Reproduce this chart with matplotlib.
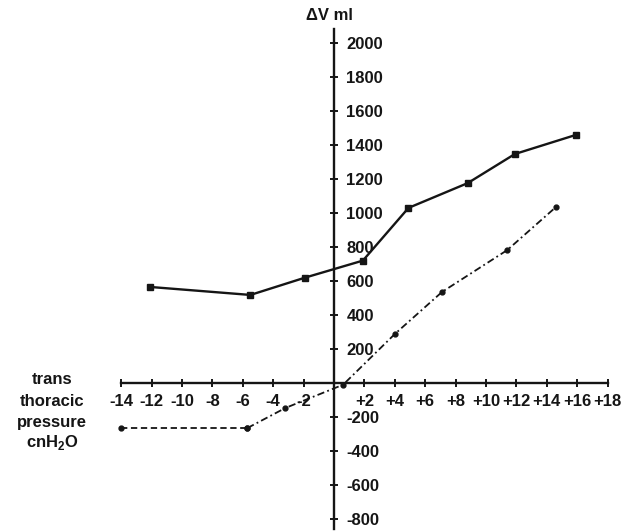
import matplotlib
matplotlib.use("Agg")
import matplotlib.pyplot as plt

plt.rcParams['font.family'] = ['Liberation Sans', 'DejaVu Sans']
plt.rcParams['font.weight'] = 'bold'
plt.rcParams['mathtext.fontset'] = 'custom'
plt.rcParams['mathtext.bf'] = 'Liberation Sans:bold'
plt.rcParams['mathtext.rm'] = 'Liberation Sans:bold'

# Data
upper_x = [-12.1, -5.5, -1.9, 1.9, 4.9, 8.8, 11.9, 15.9]
upper_y = [565, 518, 620, 720, 1030, 1176, 1347, 1459]

lower_x = [-14.0, -5.7, -3.2, 0.6, 4.0, 7.1, 11.4, 14.6]
lower_y = [-265, -265, -147, -10, 288, 535, 782, 1035]

x_ticks = [-14, -12, -10, -8, -6, -4, -2, 2, 4, 6, 8, 10, 12, 14, 16, 18]
x_tick_labels = ['-14', '-12', '-10', '-8', '-6', '-4', '-2', '+2', '+4', '+6',
                 '+8', '+10', '+12', '+14', '+16', '+18']
y_ticks = [-800, -600, -400, -200, 200, 400, 600, 800, 1000, 1200, 1400,
           1600, 1800, 2000]
y_tick_labels = [str(v) for v in y_ticks]

W, H = 640, 532
fig = plt.figure(figsize=(W / 100, H / 100), dpi=100)
ax = fig.add_axes([0, 0, 1, 1])

# pixel mapping: x_px = 334 + 15.2*x ; y_px = 383 - 0.17*y
x0, sx = 334.0, 15.2
y0, sy = 383.0, 0.17
ax.set_xlim(-x0 / sx, (W - x0) / sx)
ax.set_ylim((y0 - H) / sy, y0 / sy)

for s in ['top', 'left']:
    ax.spines[s].set_visible(False)
ax.spines['right'].set_position(('data', 0))
ax.spines['bottom'].set_position(('data', 0))
ax.spines['right'].set_bounds(-860, 2080)
ax.spines['bottom'].set_bounds(-14, 18)
for s in ['right', 'bottom']:
    ax.spines[s].set_linewidth(1.7)
    ax.spines[s].set_color('#151515')

FS = 12
ax.yaxis.tick_right()
ax.set_xticks(x_ticks)
ax.set_xticklabels(x_tick_labels)
ax.set_yticks(y_ticks)
ax.set_yticklabels(y_tick_labels)
ax.tick_params(axis='both', direction='inout', length=6, width=1.4,
               color='#151515', labelsize=FS, labelcolor='#151515')
ax.tick_params(axis='x', pad=5)
ax.tick_params(axis='y', pad=6)
for lab in ax.get_xticklabels() + ax.get_yticklabels():
    lab.set_fontweight('bold')

ax.plot(upper_x, upper_y, color='#151515', lw=1.7, marker='s', ms=4.5,
        solid_joinstyle='round')
ax.plot(lower_x[:2], lower_y[:2], color='#151515', lw=1.3, dashes=(3.5, 2),
        marker='o', ms=3.5)
ax.plot(lower_x[1:], lower_y[1:], color='#151515', lw=1.3,
        dashes=(4, 1.8, 1, 1.8), marker='o', ms=3.5)

ax.text(-0.3, (y0 - 15) / sy, 'ΔV ml', ha='center', va='center',
        fontsize=FS, fontweight='bold', color='#151515')

left_lines = ['trans', 'thoracic', 'pressure', 'cnH$_{\\mathbf{2}}$O']
left_y_px = [380, 401, 422, 443]
for t, yp in zip(left_lines, left_y_px):
    ax.text((52 - x0) / sx, (y0 - yp) / sy, t, ha='center', va='center',
            fontsize=FS, fontweight='bold', color='#151515')

fig.savefig('out.png', dpi=100)
